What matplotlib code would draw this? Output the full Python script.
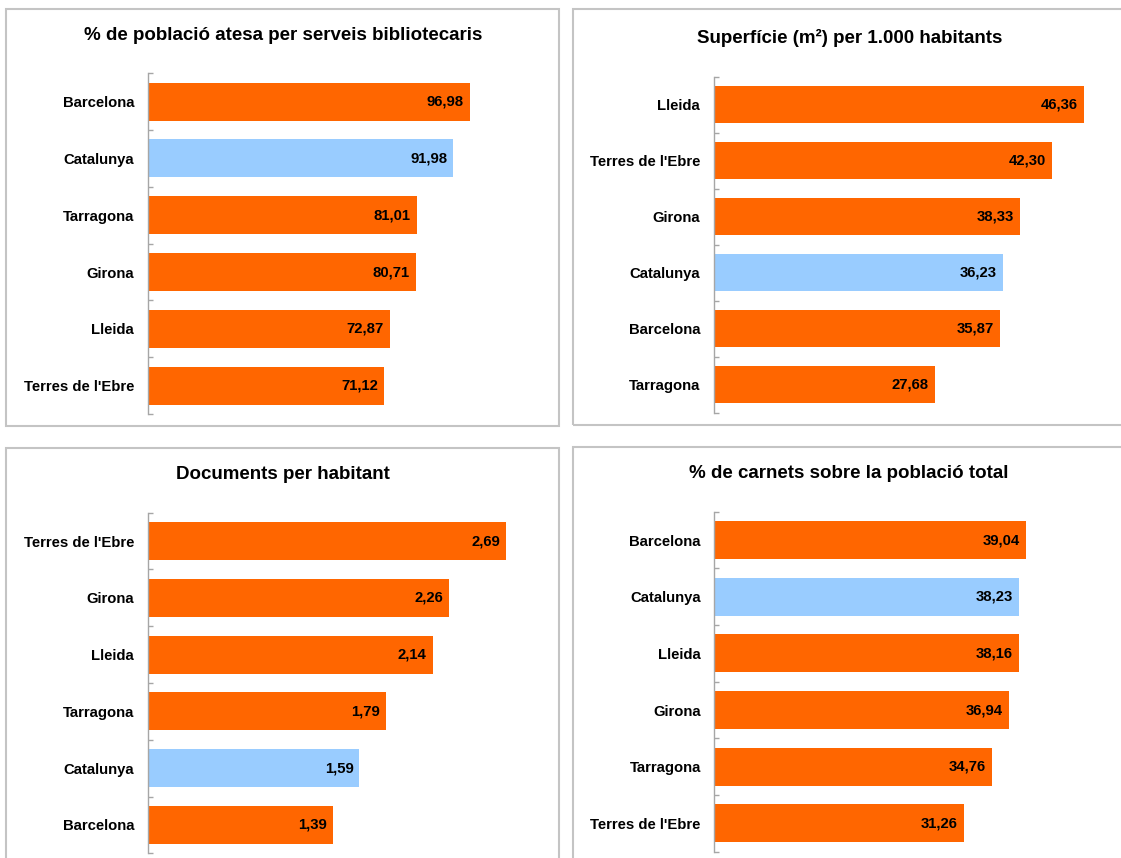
import matplotlib
matplotlib.use("Agg")
import matplotlib.pyplot as plt
from matplotlib.patches import Rectangle

plt.rcParams['font.family'] = ['Liberation Sans', 'DejaVu Sans']
plt.rcParams['font.weight'] = 'bold'

# data
cat1 = ['Barcelona', 'Catalunya', 'Tarragona', 'Girona', 'Lleida', "Terres de l'Ebre"]
val1 = [96.98, 91.98, 81.01, 80.71, 72.87, 71.12]

cat2 = ['Lleida', "Terres de l'Ebre", 'Girona', 'Catalunya', 'Barcelona', 'Tarragona']
val2 = [46.36, 42.30, 38.33, 36.23, 35.87, 27.68]

cat3 = ["Terres de l'Ebre", 'Girona', 'Lleida', 'Tarragona', 'Catalunya', 'Barcelona']
val3 = [2.69, 2.26, 2.14, 1.79, 1.59, 1.39]

cat4 = ['Barcelona', 'Catalunya', 'Lleida', 'Girona', 'Tarragona', "Terres de l'Ebre"]
val4 = [39.04, 38.23, 38.16, 36.94, 34.76, 31.26]

titles = ['% de població atesa per serveis bibliotecaris',
          'Superfície (m²) per 1.000 habitants',
          'Documents per habitant',
          '% de carnets sobre la població total']

ORANGE = '#FF6600'
BLUE = '#99CCFF'
GREY = '#A6A6A6'

W, H = 1121, 858
fig = plt.figure(figsize=(W / 100, H / 100), dpi=100)


def px_axes(x0, y0, x1, y1):
    # pixel box (top-left origin) -> figure axes
    return fig.add_axes([x0 / W, 1 - y1 / H, (x1 - x0) / W, (y1 - y0) / H])


def border(x0, y0, x1, y1):
    fig.patches.append(Rectangle((x0 / W, 1 - y1 / H), (x1 - x0) / W, (y1 - y0) / H,
                                 transform=fig.transFigure, fill=False,
                                 edgecolor='#C4C4C4', linewidth=1.5))


def panel(box, cats, vals, xmax, title, title_xy):
    ax = px_axes(*box)
    n = len(cats)
    ys = list(range(n))
    colors = [BLUE if c == 'Catalunya' else ORANGE for c in cats]
    ax.barh(ys, vals, height=0.67, color=colors, edgecolor='none')
    ax.set_xlim(0, xmax)
    ax.set_ylim(n - 0.5, -0.5)
    for y, v in zip(ys, vals):
        ax.annotate(f"{v:.2f}".replace('.', ','), (v, y), xytext=(-4.3, 0),
                    textcoords='offset points', ha='right', va='center',
                    fontsize=10.7, fontweight='bold')
    ax.set_yticks(ys)
    ax.set_yticklabels(cats, fontsize=10.7, fontweight='bold')
    ax.set_yticks([i - 0.5 for i in range(n + 1)], minor=True)
    ax.tick_params(axis='y', which='major', length=0, pad=9.7)
    ax.tick_params(axis='y', which='minor', direction='in', length=3.8,
                   color=GREY, width=1)
    ax.set_xticks([])
    for s in ['top', 'right', 'bottom']:
        ax.spines[s].set_visible(False)
    ax.spines['left'].set_color(GREY)
    ax.spines['left'].set_linewidth(1)
    fig.text(title_xy[0] / W, 1 - title_xy[1] / H, title, ha='center', va='center',
             fontsize=13.5, fontweight='bold')
    return ax


border(5.7, 8.7, 558.7, 425.7)
border(572.7, 8.7, 1130, 424.7)
border(5.7, 448.3, 558.7, 870)
border(572.7, 446.7, 1130, 870)

panel((147.5, 73.3, 546.5, 414), cat1, val1, 120, titles[0], (283, 35))
panel((713.6, 76.7, 1113.1, 412.7), cat2, val2, 50, titles[1], (849.6, 38))
panel((147.5, 512.7, 547.5, 853.3), cat3, val3, 3, titles[2], (283, 475))
panel((714.3, 511.7, 1113.3, 851.7), cat4, val4, 50, titles[3], (848.4, 473.3))

plt.savefig('out.png', dpi=100)
